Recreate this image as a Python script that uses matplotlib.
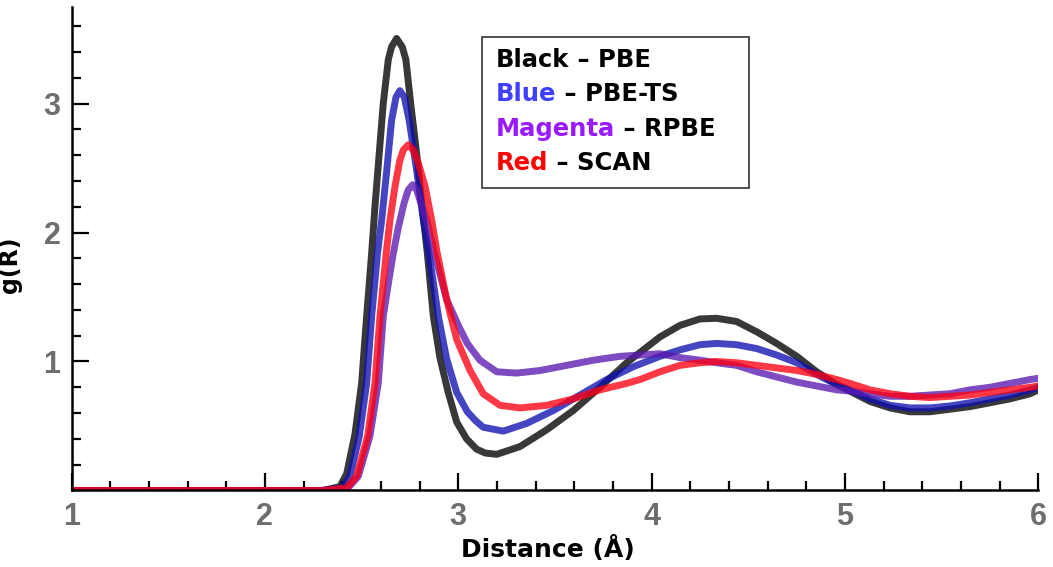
import matplotlib
matplotlib.use("Agg")
import matplotlib.pyplot as plt
from matplotlib.patches import Rectangle
from matplotlib.ticker import MultipleLocator

# g(R) curves (distance in Angstrom, g value)
pbe_x = [1.0, 2.30, 2.388, 2.423, 2.466, 2.500, 2.526, 2.552, 2.569, 2.591, 2.612, 2.638,
         2.655, 2.681, 2.710, 2.729, 2.754, 2.785, 2.811, 2.840, 2.871, 2.905, 2.948, 2.992,
         3.043, 3.095, 3.140, 3.199, 3.319, 3.457, 3.595, 3.733, 3.871, 3.940, 4.043, 4.147,
         4.250, 4.337, 4.440, 4.544, 4.647, 4.751, 4.854, 4.958, 5.026, 5.130, 5.233, 5.337,
         5.440, 5.544, 5.647, 5.751, 5.854, 5.958, 6.0]
pbe_y = [0.0, 0.0, 0.03, 0.13, 0.44, 0.83, 1.35, 1.84, 2.20, 2.61, 3.00, 3.34,
         3.44, 3.505, 3.44, 3.34, 3.00, 2.61, 2.23, 1.84, 1.35, 1.03, 0.76, 0.53,
         0.40, 0.32, 0.29, 0.28, 0.34, 0.47, 0.62, 0.80, 0.99, 1.07, 1.19, 1.28,
         1.33, 1.335, 1.31, 1.23, 1.14, 1.04, 0.92, 0.82, 0.77, 0.69, 0.64, 0.61,
         0.61, 0.63, 0.65, 0.68, 0.71, 0.75, 0.78]

pbets_x = [1.0, 2.30, 2.397, 2.440, 2.488, 2.526, 2.552, 2.583, 2.604, 2.630, 2.655, 2.678,
           2.698, 2.721, 2.746, 2.785, 2.819, 2.848, 2.897, 2.940, 2.992, 3.047, 3.090, 3.129,
           3.233, 3.354, 3.492, 3.630, 3.768, 3.906, 4.043, 4.147, 4.250, 4.337, 4.440, 4.544,
           4.647, 4.751, 4.854, 4.958, 5.026, 5.130, 5.233, 5.337, 5.440, 5.544, 5.647, 5.751,
           5.854, 5.958, 6.0]
pbets_y = [0.0, 0.0, 0.02, 0.11, 0.42, 0.83, 1.35, 1.85, 2.10, 2.48, 2.87, 3.05,
           3.10, 3.05, 2.87, 2.48, 2.10, 1.84, 1.35, 1.02, 0.76, 0.61, 0.54, 0.49,
           0.46, 0.52, 0.62, 0.74, 0.86, 0.96, 1.04, 1.09, 1.13, 1.14, 1.13, 1.10,
           1.05, 0.99, 0.90, 0.82, 0.78, 0.71, 0.66, 0.64, 0.64, 0.655, 0.68, 0.71,
           0.74, 0.78, 0.80]

rpbe_x = [1.0, 2.30, 2.430, 2.483, 2.543, 2.586, 2.612, 2.640, 2.663, 2.690, 2.720, 2.741,
          2.764, 2.785, 2.802, 2.840, 2.880, 2.940, 3.000, 3.047, 3.112, 3.199, 3.302, 3.423,
          3.561, 3.699, 3.837, 3.940, 4.043, 4.147, 4.250, 4.337, 4.440, 4.544, 4.647, 4.751,
          4.854, 4.958, 5.030, 5.130, 5.233, 5.337, 5.440, 5.544, 5.647, 5.751, 5.854, 5.958,
          6.0]
rpbe_y = [0.0, 0.0, 0.02, 0.11, 0.42, 0.83, 1.35, 1.62, 1.83, 2.04, 2.23, 2.33,
          2.37, 2.33, 2.25, 2.08, 1.82, 1.48, 1.28, 1.14, 1.01, 0.92, 0.91, 0.93,
          0.97, 1.01, 1.04, 1.05, 1.06, 1.03, 1.01, 0.99, 0.97, 0.92, 0.88, 0.84,
          0.81, 0.78, 0.77, 0.75, 0.73, 0.73, 0.74, 0.75, 0.78, 0.80, 0.83, 0.86,
          0.87]

scan_x = [1.0, 2.30, 2.423, 2.474, 2.531, 2.569, 2.595, 2.628, 2.647, 2.673, 2.698, 2.716,
          2.741, 2.767, 2.793, 2.828, 2.862, 2.890, 2.940, 2.992, 3.061, 3.129, 3.216, 3.319,
          3.457, 3.595, 3.733, 3.871, 3.940, 4.043, 4.147, 4.250, 4.337, 4.440, 4.544, 4.647,
          4.751, 4.854, 4.958, 5.026, 5.130, 5.233, 5.337, 5.440, 5.544, 5.647, 5.751, 5.854,
          5.958, 6.0]
scan_y = [0.0, 0.0, 0.02, 0.11, 0.42, 0.83, 1.35, 1.85, 2.10, 2.36, 2.56, 2.64,
          2.68, 2.64, 2.54, 2.36, 2.10, 1.85, 1.48, 1.17, 0.93, 0.75, 0.66, 0.64,
          0.66, 0.71, 0.78, 0.83, 0.86, 0.92, 0.97, 0.99, 1.00, 0.99, 0.97, 0.95,
          0.93, 0.90, 0.86, 0.83, 0.78, 0.75, 0.73, 0.72, 0.73, 0.74, 0.76, 0.78,
          0.80, 0.81]

legend_words = ["Black", "Blue", "Magenta", "Red"]
legend_names = ["PBE", "PBE-TS", "RPBE", "SCAN"]
legend_colors = ["black", "#3f3fff", "#9a1aff", "#ff0000"]

plt.rcParams['font.family'] = ['DejaVu Sans']
fig = plt.figure(figsize=(10.53, 5.67), dpi=100)
ax = fig.add_axes([0.068, 0.135, 0.918, 0.853])

lw = 5
ax.plot(pbe_x, pbe_y, color="black", alpha=0.78, lw=lw)
ax.plot(pbets_x, pbets_y, color="#1010b0", alpha=0.78, lw=lw)
ax.plot(rpbe_x, rpbe_y, color="#5a18b0", alpha=0.78, lw=lw)
ax.plot(scan_x, scan_y, color="#ff0010", alpha=0.78, lw=lw)

ax.set_xlim(1, 6)
ax.set_ylim(0, 3.75)
ax.xaxis.set_major_locator(MultipleLocator(1))
ax.xaxis.set_minor_locator(MultipleLocator(0.2))
ax.set_yticks([1, 2, 3])
ax.yaxis.set_minor_locator(MultipleLocator(0.2))

for s in ["top", "right"]:
    ax.spines[s].set_visible(False)
for s in ["left", "bottom"]:
    ax.spines[s].set_linewidth(1.8)

ax.tick_params(which="major", direction="in", length=12, width=1.6,
               labelsize=22, labelcolor="#6e6e6e", pad=8)
ax.tick_params(which="minor", direction="in", length=6.5, width=1.6)
for lab in ax.get_xticklabels() + ax.get_yticklabels():
    lab.set_fontweight("bold")
    lab.set_family(["Liberation Sans", "DejaVu Sans"])

ax.set_xlabel("Distance (Å)", fontsize=18, fontweight="bold")
ax.xaxis.set_label_coords(0.493, -0.094)
ax.set_ylabel("g(R)", fontsize=17, fontweight="bold")
ax.yaxis.set_label_coords(-0.051, 0.466)

# legend box with coloured words
ax.add_patch(Rectangle((0.4246, 0.6256), 0.2764, 0.3124, transform=ax.transAxes,
                       facecolor="white", edgecolor="#333333", lw=1.2, zorder=5))
rows_y = [0.890, 0.819, 0.748, 0.677]
for word, name, col, yy in zip(legend_words, legend_names, legend_colors, rows_y):
    t = ax.text(0.439, yy, word, color=col, fontsize=17.5, fontweight="bold",
                transform=ax.transAxes, va="center", ha="left", zorder=6)
    ax.annotate(" – " + name, xy=(1, 0), xycoords=t, va="bottom", ha="left",
                fontsize=17.5, fontweight="bold", color="black", zorder=6)

fig.savefig("out.png", dpi=100)
